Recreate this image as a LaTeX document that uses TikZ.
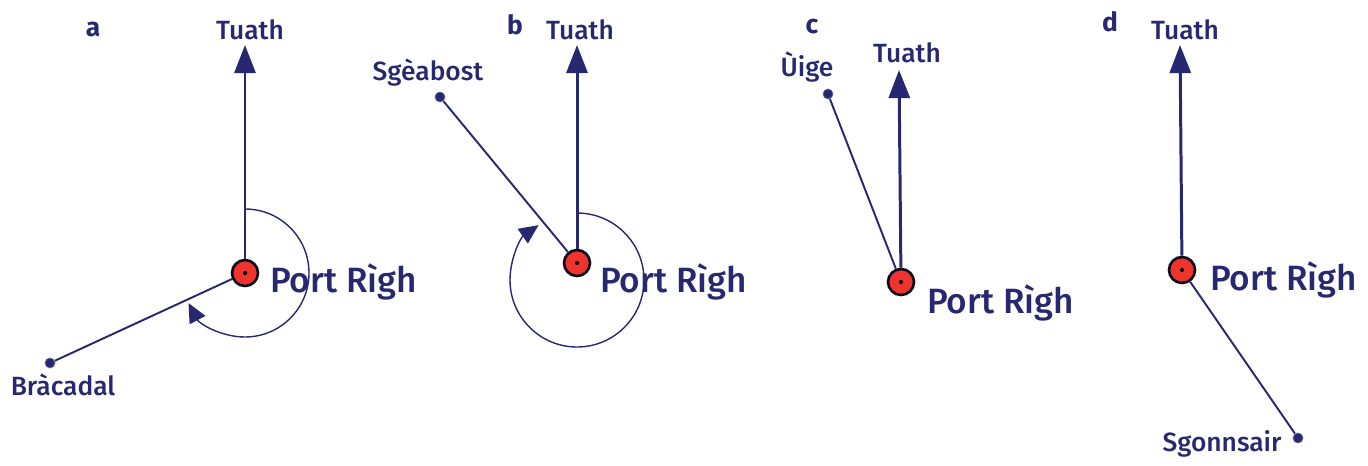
\documentclass[tikz,border=0pt]{standalone}
\usepackage{fontspec}
\setmainfont{Fira Sans}[UprightFont=* Medium,BoldFont=* Bold]
\usetikzlibrary{arrows.meta}
\definecolor{mapNavy}{RGB}{40,40,112}
\definecolor{harbourRed}{RGB}{238,52,44}

\begin{document}
\begin{tikzpicture}[x=0.02cm,y=-0.02cm,
  port/.style={circle,draw=black!75!mapNavy,line width=1.5pt,fill=harbourRed,minimum size=0.52cm,inner sep=0pt},
  place/.style={circle,fill=mapNavy,draw=mapNavy!70,minimum size=0.2cm,inner sep=0pt},
  north/.style={line width=1.7pt,draw=mapNavy,-{Triangle[width=12pt,length=16pt]}},
  bearing/.style={line width=1.1pt,draw=mapNavy},
  sweep/.style={line width=0.8pt,draw=mapNavy,-{Triangle[width=10pt,length=11pt]}},
  lbl/.style={text=mapNavy,font=\fontsize{15}{17}\selectfont,inner sep=1pt},
  portlbl/.style={text=mapNavy,font=\fontsize{20}{24}\selectfont,anchor=west,inner sep=1pt},
  panel/.style={text=mapNavy,font=\bfseries\fontsize{15}{17}\selectfont}]
\useasboundingbox (0,0) rectangle (1368,466);

% a
\node[panel] (labA) at (93,30) {a};
\node[port] (portA) at (245,273) {};
\coordinate (tipA) at (245,45);
\node[lbl] (tuathA) at (250,30) {Tuath};
\node[place] (brac) at (50,363) {};
\node[lbl] (bracLbl) at (63,385) {Bràcadal};
\node[portlbl] (portLblA) at (268,282) {Port Rìgh};
\draw[north] (portA) -- (tipA);
\draw[bearing] (portA) -- (brac);
\draw[sweep] (portA) ++(0,-64) arc[start angle=-90,end angle=152,radius=64];
\fill[black] (portA) circle (1.2pt);

% b
\node[panel] (labB) at (515,25) {b};
\node[port] (portB) at (577,263) {};
\coordinate (tipB) at (577,45);
\node[lbl] (tuathB) at (580,30) {Tuath};
\node[place] (sgea) at (440,97) {};
\node[lbl] (sgeaLbl) at (428,73) {Sgèabost};
\node[portlbl] (portLblB) at (598,282) {Port Rìgh};
\draw[north] (portB) -- (tipB);
\draw[bearing] (portB) -- (sgea);
\draw[sweep] (portB) ++(0,-50) arc[start angle=-90,end angle=235,radius=67];
\fill[black] (portB) circle (1.2pt);

% c
\node[panel] (labC) at (812,27) {c};
\node[port] (portC) at (901,282) {};
\coordinate (tipC) at (899,70);
\node[lbl] (tuathC) at (907,53) {Tuath};
\node[place] (uige) at (828,94) {};
\node[lbl] (uigeLbl) at (807,67) {Ùige};
\node[portlbl] (portLblC) at (925,303) {Port Rìgh};
\draw[north] (portC) -- (tipC);
\draw[bearing] (portC) -- (uige);
\fill[black] (portC) circle (1.2pt);

% d
\node[panel] (labD) at (1110,22) {d};
\node[port] (portD) at (1182,270) {};
\coordinate (tipD) at (1180,45);
\node[lbl] (tuathD) at (1185,30) {Tuath};
\node[place] (sgon) at (1298,438) {};
\node[lbl] (sgonLbl) at (1222,444) {Sgonnsair};
\node[portlbl] (portLblD) at (1208,280) {Port Rìgh};
\draw[north] (portD) -- (tipD);
\draw[bearing] (portD) -- (sgon);
\fill[black] (portD) circle (1.2pt);
\end{tikzpicture}
\end{document}
